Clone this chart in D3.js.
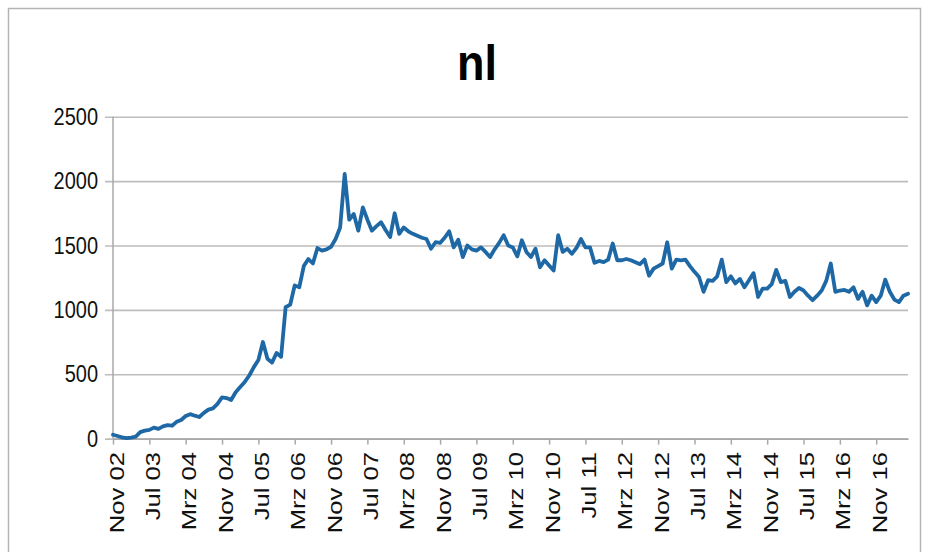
<!DOCTYPE html>
<html><head><meta charset="utf-8">
<script src="https://cdn.jsdelivr.net/npm/d3@7"></script>
<style>html,body{margin:0;padding:0;background:#fff;} svg{display:block;}</style>
</head><body>
<svg id="c" width="928" height="552"></svg>
<script>
const title = "nl";
const monthNames = ["Jan","Feb","Mrz","Apr","Mai","Jun","Jul","Aug","Sep","Okt","Nov","Dez"];
const tickLabels = ["Nov 02","Jul 03","Mrz 04","Nov 04","Jul 05","Mrz 06","Nov 06","Jul 07","Mrz 08","Nov 08","Jul 09","Mrz 10","Nov 10","Jul 11","Mrz 12","Nov 12","Jul 13","Mrz 14","Nov 14","Jul 15","Mrz 16","Nov 16"];
const yTicks = [0,500,1000,1500,2000,2500];
const values = [
 30,20,10,3,8,15,50,62,68,85,75,95,
 105,100,130,145,175,190,178,168,200,225,235,270,
 320,315,300,360,400,440,490,555,610,750,620,590,
 665,635,1020,1040,1190,1175,1340,1395,1360,1480,1460,1470,
 1490,1550,1640,2055,1700,1745,1615,1795,1700,1615,1650,1680,
 1620,1565,1750,1590,1640,1610,1590,1575,1560,1550,1475,1525,
 1520,1560,1610,1485,1545,1410,1500,1470,1460,1485,1450,1410,
 1470,1520,1580,1500,1485,1415,1540,1450,1410,1475,1330,1385,
 1345,1305,1580,1450,1475,1435,1480,1550,1485,1485,1365,1380,
 1370,1390,1515,1385,1385,1395,1385,1370,1355,1390,1265,1320,
 1340,1360,1525,1320,1390,1385,1390,1340,1295,1255,1140,1230,
 1225,1260,1390,1215,1260,1205,1240,1175,1230,1285,1100,1165,
 1165,1200,1310,1215,1225,1100,1140,1170,1150,1110,1075,1110,
 1150,1225,1360,1140,1150,1155,1140,1175,1085,1140,1035,1110,
 1060,1110,1235,1140,1080,1060,1110,1125
];
// category labels: monthly, starting Nov 2002
const categories = values.map((v,i)=>monthNames[(10+i)%12]+" "+String(2+Math.floor((10+i)/12)).padStart(2,"0"));

const svg = d3.select("#c");
const L=113, R=908, T=116.7, B=438.6;
const x = d3.scalePoint().domain(categories).range([L,R]);
const y = d3.scaleLinear().domain([0,2500]).range([B,T]);
const font = "'Liberation Sans', Arial, sans-serif";

// chart border
svg.append("rect").attr("x",8.5).attr("y",8.5).attr("width",912).attr("height",600)
  .attr("fill","#fff").attr("stroke","#b4b4b4").attr("stroke-width",1.5);

// title
svg.append("text").text(title)
  .attr("transform","translate(477,80) scale(1,1.1)")
  .attr("text-anchor","middle").attr("font-family",font).attr("font-weight","bold")
  .attr("font-size",45).attr("fill","#000");

// y axis with gridlines
const gy = svg.append("g").attr("transform",`translate(${L},0)`)
  .call(d3.axisLeft(y).tickValues(yTicks).tickFormat(d3.format("d")).tickSizeInner(-(R-L)).tickSizeOuter(0));
gy.select(".domain").remove();
gy.selectAll(".tick line").attr("x1",-8).attr("stroke","#bdbdbd").attr("stroke-width",1.6);
gy.selectAll(".tick text").attr("font-family",font).attr("font-size",20).attr("fill","#111")
  .attr("x",-15).attr("transform","scale(1,1.2)");
// vertical axis line
svg.append("line").attr("x1",L).attr("x2",L).attr("y1",T).attr("y2",B)
  .attr("stroke","#a8a8a8").attr("stroke-width",1.5);

// x axis
const gx = svg.append("g").attr("transform",`translate(0,${B})`)
  .call(d3.axisBottom(x).tickValues(tickLabels).tickSizeInner(6).tickSizeOuter(0));
gx.select(".domain").attr("stroke","#a8a8a8").attr("stroke-width",1.6);
gx.selectAll(".tick line").attr("stroke","#a8a8a8").attr("stroke-width",1.5);
gx.selectAll(".tick text").attr("font-family",font).attr("font-size",20).attr("fill","#111")
  .attr("text-anchor","end").attr("x",-10.5).attr("y",0).attr("dy","0.5em")
  .attr("transform","rotate(-90) scale(1.28,1)");

// line
const line = d3.line().x((d,i)=>x(categories[i])).y(d=>y(d));
svg.append("path").datum(values).attr("d",line).attr("fill","none")
  .attr("stroke","#1e68a6").attr("stroke-width",3.8).attr("stroke-linejoin","round").attr("stroke-linecap","round");
</script>
</body></html>
